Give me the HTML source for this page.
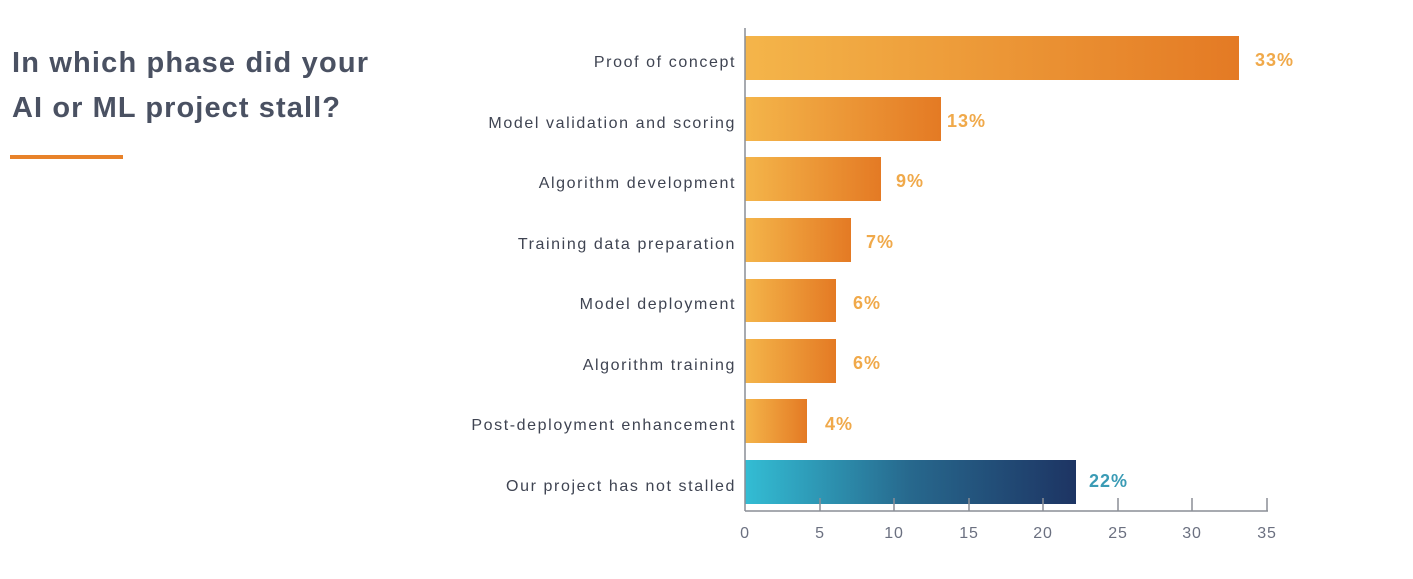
<!DOCTYPE html>
<html><head><meta charset="utf-8"><style>
html,body{margin:0;padding:0;background:#fff;}
svg{display:block;}
</style></head><body>
<svg width="1413" height="579" viewBox="0 0 1413 579" xmlns="http://www.w3.org/2000/svg" font-family="Liberation Sans, sans-serif">
<defs>
<linearGradient id="o" x1="0" x2="1" y1="0" y2="0"><stop offset="0" stop-color="#f4b54a"/><stop offset="1" stop-color="#e47a24"/></linearGradient>
<linearGradient id="b" x1="0" x2="1" y1="0" y2="0"><stop offset="0" stop-color="#33bdd4"/><stop offset="0.5" stop-color="#27688d"/><stop offset="1" stop-color="#1d3463"/></linearGradient>
</defs>
<text x="12" y="72" font-size="29" font-weight="bold" fill="#4a5162" textLength="356">In which phase did your</text>
<text x="12" y="117" font-size="29" font-weight="bold" fill="#4a5162" textLength="328">AI or ML project stall?</text>
<rect x="10" y="155" width="113" height="4" fill="#e8822a"/>
<g font-size="16" fill="#3f4452" text-anchor="end" letter-spacing="1.6">
<text x="736" y="67">Proof of concept</text>
<text x="736" y="128">Model validation and scoring</text>
<text x="736" y="188">Algorithm development</text>
<text x="736" y="249">Training data preparation</text>
<text x="736" y="309">Model deployment</text>
<text x="736" y="370">Algorithm training</text>
<text x="736" y="430">Post-deployment enhancement</text>
<text x="736" y="491">Our project has not stalled</text>
</g>
<rect x="745" y="36" width="494" height="44" fill="url(#o)"/>
<rect x="745" y="97" width="196" height="44" fill="url(#o)"/>
<rect x="745" y="157" width="136" height="44" fill="url(#o)"/>
<rect x="745" y="218" width="106" height="44" fill="url(#o)"/>
<rect x="745" y="279" width="91" height="43" fill="url(#o)"/>
<rect x="745" y="339" width="91" height="44" fill="url(#o)"/>
<rect x="745" y="399" width="62" height="44" fill="url(#o)"/>
<rect x="745" y="460" width="331" height="44" fill="url(#b)"/>
<g font-size="18" font-weight="bold" fill="#f0a94a" letter-spacing="1">
<text x="1255" y="66">33%</text>
<text x="947" y="127">13%</text>
<text x="896" y="187">9%</text>
<text x="866" y="248">7%</text>
<text x="853" y="309">6%</text>
<text x="853" y="369">6%</text>
<text x="825" y="430">4%</text>
<text x="1089" y="487" fill="#3a9bb5">22%</text>
</g>
<g stroke="#8a8e96" stroke-width="1.5">
<line x1="745" y1="28" x2="745" y2="511"/>
<line x1="745" y1="511" x2="1268" y2="511"/>
<line x1="820" y1="498" x2="820" y2="511"/>
<line x1="894" y1="498" x2="894" y2="511"/>
<line x1="969" y1="498" x2="969" y2="511"/>
<line x1="1043" y1="498" x2="1043" y2="511"/>
<line x1="1118" y1="498" x2="1118" y2="511"/>
<line x1="1192" y1="498" x2="1192" y2="511"/>
<line x1="1267" y1="498" x2="1267" y2="511"/>
</g>
<g font-size="16" fill="#6b7080" text-anchor="middle" letter-spacing="0.8">
<text x="745" y="538">0</text>
<text x="820" y="538">5</text>
<text x="894" y="538">10</text>
<text x="969" y="538">15</text>
<text x="1043" y="538">20</text>
<text x="1118" y="538">25</text>
<text x="1192" y="538">30</text>
<text x="1267" y="538">35</text>
</g>
</svg>
</body></html>
